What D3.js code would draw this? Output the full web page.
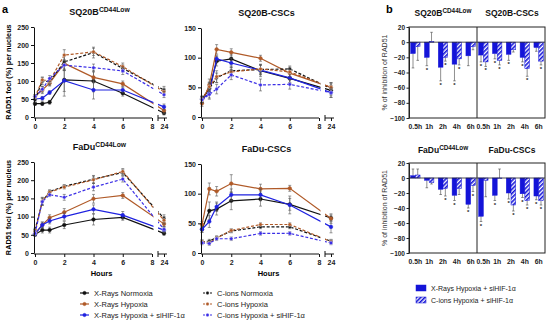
<!DOCTYPE html>
<html><head><meta charset="utf-8">
<script src="https://cdn.jsdelivr.net/npm/d3@7"></script>
<style>body{margin:0;background:#fff}svg{display:block;font-family:"Liberation Sans",Arial,sans-serif}</style>
</head><body><svg id="c" width="550" height="322"></svg>
<script>
// ---------- DATA : panel a ----------
const hours = [0, 0.5, 1, 2, 4, 6, 24];
const xTickValues = [0, 2, 4, 6, 8, 24];
const seriesNames = ["X-Rays Normoxia", "X-Rays Hypoxia", "X-Rays Hypoxia + siHIF-1α",
                     "C-ions Normoxia", "C-ions Hypoxia", "C-ions Hypoxia + siHIF-1α"];
const panelTitles = [["SQ20B", "CD44Low"], ["SQ20B-CSCs", ""], ["FaDu", "CD44Low"], ["FaDu-CSCs", ""]];
const yTicks250 = [0, 50, 100, 150, 200, 250];
const yTicks150 = [0, 50, 100, 150];

// SQ20B CD44Low
const sqLowXN = [37, 37, 41, 103, 100, 66, 11];
const sqLowXH = [57, 75, 94, 149, 110, 92, 18];
const sqLowXS = [50, 52, 68, 101, 75, 75, 28];
const sqLowCN = [48, 100, 98, 153, 179, 135, 75];
const sqLowCH = [55, 103, 100, 172, 181, 140, 70];
const sqLowCS = [57, 77, 107, 144, 137, 128, 62];
const sqLowErr = [[5,5,5,45,30,8,5],[5,10,8,20,15,8,8],[5,5,5,30,25,8,8],[8,10,10,20,15,10,10],[5,8,8,15,10,10,10],[5,8,8,15,10,10,8]];
// SQ20B-CSCs
const sqCscXN = [30, 48, 94, 98, 78, 65, 45];
const sqCscXH = [23, 54, 114, 109, 99, 74, 50];
const sqCscXS = [30, 40, 98, 91, 79, 66, 41];
const sqCscCN = [30, 48, 66, 78, 80, 81, 48];
const sqCscCH = [29, 51, 68, 76, 81, 76, 50];
const sqCscCS = [29, 38, 47, 71, 54, 55, 41];
const sqCscErr = [[5,8,8,8,10,8,8],[5,10,8,6,5,8,8],[5,8,6,8,8,8,8],[5,10,8,8,8,5,8],[5,8,10,8,8,8,8],[5,8,8,8,10,8,8]];
// FaDu CD44Low
const faLowXN = [51, 63, 63, 77, 92, 98, 54];
const faLowXH = [54, 77, 97, 112, 149, 158, 80];
const faLowXS = [52, 77, 88, 100, 120, 104, 63];
const faLowCN = [63, 141, 169, 183, 203, 221, 95];
const faLowCH = [58, 143, 167, 181, 201, 224, 90];
const faLowCS = [54, 141, 160, 153, 181, 203, 65];
const faLowErr = [[5,8,8,10,15,8,5],[5,8,8,10,12,8,8],[5,8,8,10,12,10,8],[5,10,5,5,10,8,10],[5,10,5,5,10,8,10],[5,10,5,8,10,8,8]];
// FaDu-CSCs
const faCscXN = [40, 71, 74, 88, 91, 82, 59];
const faCscXH = [48, 108, 104, 117, 108, 109, 58];
const faCscXS = [40, 53, 78, 98, 98, 81, 44];
const faCscCN = [19, 20, 26, 37, 44, 44, 20];
const faCscCH = [19, 17, 25, 38, 48, 48, 19];
const faCscCS = [17, 16, 24, 24, 33, 33, 17];
const faCscErr = [[5,15,10,15,12,10,5],[5,10,8,15,8,5,8],[5,10,8,10,10,15,10],[3,3,3,3,3,3,3],[3,3,3,3,3,3,3],[3,3,3,3,3,3,3]];

// ---------- DATA : panel b ----------
const barCats = ["0.5h", "1h", "2h", "4h", "6h"];
const bTicks = [20, 0, -20, -40, -60, -80, -100];
const bLegend = ["X-Rays Hypoxia + siHIF-1α", "C-ions Hypoxia + siHIF-1α"];
const sqLowBarX = [-15, -20, -33, -29, -18];
const sqLowBarC = [-6, 1, -20, -22, -6];
const sqLowBarXErr = [19, 11, 18, 22, 13];
const sqLowBarCErr = [18, 12, 5, 8, 4];
const sqLowStarX = [0, 1, 1, 1, 0];
const sqLowStarC = [0, 0, 1, 1, 0];
const sqCscBarX = [-17, -15, -16, -20, -7];
const sqCscBarC = [-26, -24, -10, -35, -25];
const sqCscBarXErr = [9, 7, 8, 6, 5];
const sqCscBarCErr = [6, 6, 3, 10, 5];
const sqCscStarX = [1, 1, 1, 1, 0];
const sqCscStarC = [1, 1, 0, 1, 1];
const faLowBarX = [3, -3, -15, -23, -35];
const faLowBarC = [4, -6, -14, -14, -10];
const faLowBarXErr = [9, 10, 7, 7, 5];
const faLowBarCErr = [8, 2, 10, 8, 8];
const faLowStarX = [0, 0, 0, 1, 1];
const faLowStarC = [0, 0, 1, 0, 1];
const faCscBarX = [-51, -23, -20, -21, -24];
const faCscBarC = [-3, 0, -36, -30, -30];
const faCscBarXErr = [7, 7, 8, 5, 5];
const faCscBarCErr = [22, 12, 8, 6, 6];
const faCscStarX = [1, 1, 1, 1, 1];
const faCscStarC = [0, 0, 1, 1, 1];

// ---------- STYLE ----------
const colors = ["#111111", "#b05a28", "#1f22e0", "#111111", "#b05a28", "#3b2ee6"];
const dashed = [false, false, false, true, true, true];
const barBlue = "#1414d8";

const svg = d3.select("#c");
const FONT = "'Liberation Sans', Arial, sans-serif";

// hatch pattern
const defs = svg.append("defs");
const pat = defs.append("pattern").attr("id", "hatch").attr("patternUnits", "userSpaceOnUse")
  .attr("width", 3).attr("height", 3).attr("patternTransform", "rotate(45)");
pat.append("rect").attr("width", 3).attr("height", 3).attr("fill", "#fff");
pat.append("rect").attr("width", 1.6).attr("height", 3).attr("fill", barBlue);

// panel letters
svg.append("text").attr("x", 2).attr("y", 13).attr("font-size", 11).attr("font-weight", "bold").text("a");
svg.append("text").attr("x", 386).attr("y", 13).attr("font-size", 11).attr("font-weight", "bold").text("b");

function title(x, y, main, sup, size) {
  const t = svg.append("text").attr("x", x).attr("y", y).attr("text-anchor", "middle")
    .attr("font-size", size).attr("font-weight", "bold").attr("fill", "#111");
  t.append("tspan").text(main);
  if (sup) t.append("tspan").attr("font-size", size * 0.75).attr("dy", -size * 0.38).text(sup);
}

// ---------- panel a ----------
const panelsA = [
  { x0: 35, y0: 117, yTop: 27, yMax: 250, ticks: yTicks250, t: panelTitles[0],
    s: [sqLowXN, sqLowXH, sqLowXS, sqLowCN, sqLowCH, sqLowCS], e: sqLowErr },
  { x0: 202, y0: 117, yTop: 28, yMax: 150, ticks: yTicks150, t: panelTitles[1],
    s: [sqCscXN, sqCscXH, sqCscXS, sqCscCN, sqCscCH, sqCscCS], e: sqCscErr },
  { x0: 35, y0: 253, yTop: 162, yMax: 250, ticks: yTicks250, t: panelTitles[2],
    s: [faLowXN, faLowXH, faLowXS, faLowCN, faLowCH, faLowCS], e: faLowErr, hours: true },
  { x0: 202, y0: 253, yTop: 164, yMax: 150, ticks: yTicks150, t: panelTitles[3],
    s: [faCscXN, faCscXH, faCscXS, faCscCN, faCscCH, faCscCS], e: faCscErr, hours: true }
];

panelsA.forEach((p, pi) => {
  const x8 = p.x0 + 117, x24 = p.x0 + 129;
  const x = d3.scaleLinear().domain([0, 8, 24]).range([p.x0, x8, x24]);
  const y = d3.scaleLinear().domain([0, p.yMax]).range([p.y0, p.yTop]);
  const g = svg.append("g");

  p.s.forEach((vals, si) => {
    const pts = hours.map((h, i) => ({ h, v: vals[i], e: p.e[si][i] }));
    const sg = g.append("g");
    pts.forEach(d => {
      sg.append("line").attr("x1", x(d.h)).attr("x2", x(d.h)).attr("y1", y(d.v - d.e)).attr("y2", y(d.v + d.e))
        .attr("stroke", "#555").attr("stroke-width", 0.6);
      [d.v - d.e, d.v + d.e].forEach(v => sg.append("line").attr("x1", x(d.h) - 1.5).attr("x2", x(d.h) + 1.5)
        .attr("y1", y(v)).attr("y2", y(v)).attr("stroke", "#555").attr("stroke-width", 0.6));
    });
    sg.append("path").datum(pts)
      .attr("d", d3.line().x(d => x(d.h)).y(d => y(d.v)))
      .attr("fill", "none").attr("stroke", colors[si]).attr("stroke-width", 1.2)
      .attr("stroke-dasharray", dashed[si] ? "3,1.8" : null);
    sg.selectAll("circle").data(pts).join("circle")
      .attr("cx", d => x(d.h)).attr("cy", d => y(d.v)).attr("r", 1.8)
      .attr("fill", colors[si]).attr("stroke", dashed[si] ? "#fff" : colors[si]).attr("stroke-width", dashed[si] ? 0.4 : 0.5);
  });
  g.append("rect").attr("x", x8 + 1.5).attr("y", p.yTop - 10).attr("width", 4.5).attr("height", p.y0 - p.yTop + 8).attr("fill", "#fff");

  const ya = g.append("g").attr("transform", `translate(${p.x0 - 1},0)`)
    .call(d3.axisLeft(y).tickValues(p.ticks).tickSize(3).tickSizeOuter(0).tickPadding(2));
  ya.selectAll("text").attr("font-size", 7).attr("font-weight", "bold").attr("font-family", FONT).attr("fill", "#222");
  ya.selectAll("line,path").attr("stroke", "#111").attr("stroke-width", 1);
  const xa = g.append("g").attr("transform", `translate(0,${p.y0 + 1})`)
    .call(d3.axisBottom(x).tickValues(xTickValues).tickSize(3).tickSizeOuter(0).tickPadding(3));
  xa.select(".domain").remove();
  xa.selectAll("text").attr("font-size", 7).attr("font-weight", "bold").attr("font-family", FONT).attr("fill", "#222");
  xa.selectAll("line").attr("stroke", "#111").attr("stroke-width", 1);
  g.append("line").attr("x1", p.x0 - 1).attr("x2", x8).attr("y1", p.y0 + 1).attr("y2", p.y0 + 1).attr("stroke", "#111");
  g.append("line").attr("x1", x8 + 6).attr("x2", x24 + 3).attr("y1", p.y0 + 1).attr("y2", p.y0 + 1).attr("stroke", "#111");
  g.append("line").attr("x1", x8 + 6).attr("x2", x8 + 6).attr("y1", p.y0 - 2).attr("y2", p.y0 + 4).attr("stroke", "#111");

  title((p.x0 + x24) / 2, p.yTop - 12, p.t[0], p.t[1], 9);
  if (p.hours) svg.append("text").attr("x", (p.x0 + x24) / 2 + 2).attr("y", p.y0 + 23).attr("text-anchor", "middle")
    .attr("font-size", 7.5).attr("font-weight", "bold").text("Hours");
  if (pi % 2 === 0) svg.append("text").attr("transform", `translate(11,${(p.y0 + p.yTop) / 2}) rotate(-90)`)
    .attr("text-anchor", "middle").attr("font-size", 7.3).attr("font-weight", "bold").text("RAD51 foci (%) per nucleus");
});

// legend a
seriesNames.forEach((n, i) => {
  const col = Math.floor(i / 3), row = i % 3;
  const lx = col === 0 ? 80 : 203, ly = 293 + row * 11;
  svg.append("line").attr("x1", lx).attr("x2", lx + 9).attr("y1", ly).attr("y2", ly)
    .attr("stroke", colors[i]).attr("stroke-width", 1.2).attr("stroke-dasharray", dashed[i] ? "2,1.5" : null);
  svg.append("circle").attr("cx", lx + 4.5).attr("cy", ly).attr("r", 1.7)
    .attr("fill", colors[i]).attr("stroke", dashed[i] ? "#fff" : colors[i]).attr("stroke-width", 0.4);
  svg.append("text").attr("x", lx + 14).attr("y", ly + 2.5).attr("font-size", 7.5).attr("fill", "#222").text(n);
});

// ---------- panel b ----------
const panelsB = [
  { top: 27, bottom: 118, titles: [["SQ20B", "CD44Low"], ["SQ20B-CSCs", ""]], ty: 16,
    groups: [[sqLowBarX, sqLowBarC, sqLowBarXErr, sqLowBarCErr, sqLowStarX, sqLowStarC],
             [sqCscBarX, sqCscBarC, sqCscBarXErr, sqCscBarCErr, sqCscStarX, sqCscStarC]] },
  { top: 163, bottom: 253, titles: [["FaDu", "CD44Low"], ["FaDu-CSCs", ""]], ty: 153,
    groups: [[faLowBarX, faLowBarC, faLowBarXErr, faLowBarCErr, faLowStarX, faLowStarC],
             [faCscBarX, faCscBarC, faCscBarXErr, faCscBarCErr, faCscStarX, faCscStarC]] }
];
const bL = 409, bM = 477, bR = 545;
panelsB.forEach(p => {
  const y = d3.scaleLinear().domain([-100, 20]).range([p.bottom, p.top]);
  const g = svg.append("g");
  p.groups.forEach((grp, gi) => {
    const [vx, vc, ex, ec, sx, sc] = grp;
    const xb = d3.scaleBand().domain(barCats).range(gi === 0 ? [bL, bM] : [bM, bR]).paddingInner(0.32).paddingOuter(0.12);
    const sub = d3.scaleBand().domain([0, 1]).range([0, xb.bandwidth()]);
    [[vx, ex, sx], [vc, ec, sc]].forEach(([vals, errs, stars], k) => {
      barCats.forEach((c, i) => {
        const v = vals[i];
        const xx = xb(c) + sub(k), w = sub.bandwidth();
        const yTopB = y(Math.max(0, v)), yBot = y(Math.min(0, v));
        const end = v < 0 ? v - errs[i] : v + errs[i];
        g.append("line").attr("x1", xx + w / 2).attr("x2", xx + w / 2).attr("y1", y(v)).attr("y2", y(end))
          .attr("stroke", "#444").attr("stroke-width", 0.6);
        g.append("line").attr("x1", xx + w / 2 - 1.3).attr("x2", xx + w / 2 + 1.3).attr("y1", y(end)).attr("y2", y(end))
          .attr("stroke", "#444").attr("stroke-width", 0.6);
        g.append("rect").attr("x", xx).attr("y", yTopB).attr("width", w).attr("height", Math.max(0.5, yBot - yTopB))
          .attr("fill", k === 0 ? barBlue : "url(#hatch)").attr("stroke", barBlue).attr("stroke-width", 0.5);
        if (stars[i]) g.append("text").attr("x", xx + w / 2).attr("y", y(end) + 6).attr("text-anchor", "middle")
          .attr("font-size", 6).attr("font-weight", "bold").attr("fill", "#222").text("*");
      });
      if (k === 0) {
        const xa = g.append("g").attr("transform", `translate(0,${p.bottom})`)
          .call(d3.axisBottom(xb).tickSize(0).tickPadding(6));
        xa.select(".domain").remove();
        xa.selectAll("text").attr("font-size", 6.8).attr("font-weight", "bold").attr("font-family", FONT).attr("fill", "#222");
      }
    });
    title(gi === 0 ? 443 : 512, p.ty, p.titles[gi][0], p.titles[gi][1], 8.5);
  });
  g.append("rect").attr("x", bL).attr("y", p.top).attr("width", bR - bL).attr("height", p.bottom - p.top)
    .attr("fill", "none").attr("stroke", "#222").attr("stroke-width", 1);
  g.append("line").attr("x1", bM).attr("x2", bM).attr("y1", p.top).attr("y2", p.bottom).attr("stroke", "#222").attr("stroke-width", 1);
  g.append("line").attr("x1", bL).attr("x2", bR).attr("y1", y(0)).attr("y2", y(0)).attr("stroke", "#222").attr("stroke-width", 0.8);
  const ya = g.append("g").attr("transform", `translate(${bL},0)`)
    .call(d3.axisLeft(y).tickValues(bTicks).tickSize(2.5).tickSizeOuter(0).tickPadding(1.5));
  ya.selectAll("text").attr("font-size", 6.5).attr("font-weight", "bold").attr("font-family", FONT).attr("fill", "#222");
  ya.selectAll("line,path").attr("stroke", "#222");
  svg.append("text").attr("transform", `translate(387,${(p.top + p.bottom) / 2}) rotate(-90)`)
    .attr("text-anchor", "middle").attr("font-size", 7).attr("fill", "#333").text("% of inhibition of RAD51");
});
bLegend.forEach((n, i) => {
  const ly = 285 + i * 12;
  svg.append("rect").attr("x", 416).attr("y", ly).attr("width", 10).attr("height", 6)
    .attr("fill", i === 0 ? barBlue : "url(#hatch)").attr("stroke", barBlue).attr("stroke-width", 0.5);
  svg.append("text").attr("x", 431).attr("y", ly + 5.5).attr("font-size", 7).attr("fill", "#222").text(n);
});
</script>
</body></html>
